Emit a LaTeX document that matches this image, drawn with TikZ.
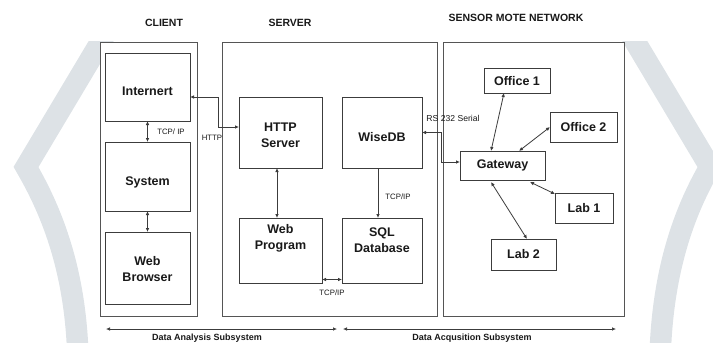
\documentclass[tikz,border=0pt]{standalone}
\usepackage{fontspec}
\setmainfont{Liberation Sans}
\usetikzlibrary{arrows.meta,calc}
\definecolor{chev}{RGB}{221,226,230}
\definecolor{ln}{RGB}{60,60,60}
\definecolor{frame}{RGB}{85,85,85}
\definecolor{txt}{RGB}{25,25,25}
\begin{document}
\begin{tikzpicture}[x=1pt,y=-1pt,
  area/.style={draw=frame,fill=white,line width=0.9pt},
  blk/.style={draw=ln,line width=0.9pt,inner sep=0pt,outer sep=0pt},
  boxtext/.style={font=\bfseries\fontsize{12.5}{16}\selectfont,text=txt,align=center,inner sep=0pt},
  headtext/.style={font=\bfseries\fontsize{10.5}{12}\selectfont,text=txt,inner sep=0pt},
  smalltext/.style={font=\fontsize{7.8}{9}\selectfont,text=txt,inner sep=0pt},
  foottext/.style={font=\bfseries\fontsize{9}{10}\selectfont,text=txt,inner sep=0pt},
  chevron/.style={draw=chev,line width=21.5pt,line join=miter,miter limit=20},
  link/.style={draw=ln,line width=0.8pt,{Latex[length=4pt,width=3.6pt]}-{Latex[length=4pt,width=3.6pt]}},
  onelink/.style={draw=ln,line width=0.8pt,-{Latex[length=4pt,width=3.6pt]}}]
\useasboundingbox (0,0) rectangle (713,343);
\clip (0,0) rectangle (713,343);

% light chevrons at both sides, cut flat at the top
\begin{scope}
  \clip (0,41) rectangle (713,343);
  \draw[chevron] (106,33) -- (26,167) .. controls (48,205) and (76,265) .. (78,360);
  \draw[chevron] (630,33) -- (710,167) .. controls (688,205) and (662,265) .. (660,360);
\end{scope}

% headings
\node[headtext] (hclient) at (164,23) {CLIENT};
\node[headtext] (hserver) at (290,23) {SERVER};
\node[headtext] (hsensor) at (516,18) {SENSOR MOTE NETWORK};

% subsystem frames
\draw[area] (100,42) rectangle (197,316);
\draw[area] (222,42) rectangle (437,316);
\draw[area] (443,42) rectangle (624,316);

% client column
\node[blk,minimum width=85,minimum height=68] (int) at (147.5,87) {};
\node[blk,minimum width=85,minimum height=69] (sys) at (147.5,176.5) {};
\node[blk,minimum width=85,minimum height=72] (wb) at (147.5,268) {};
\node[boxtext] (tint) at (147.5,91) {Internert};
\node[boxtext] (tsys) at (147.5,182) {System};
\node[boxtext] (twb) at (147.5,269.5) {Web\\Browser};

% server column
\node[blk,minimum width=83,minimum height=71] (http) at (280.5,132.5) {};
\node[blk,minimum width=80,minimum height=71] (wise) at (382,132.5) {};
\node[blk,minimum width=83,minimum height=65] (webp) at (280.5,250.5) {};
\node[blk,minimum width=80,minimum height=65] (sql) at (382,250.5) {};
\node[boxtext] (thttp) at (280.5,135.5) {HTTP\\Server};
\node[boxtext] (twise) at (382,137) {WiseDB};
\node[boxtext] (twebp) at (280.5,238) {Web\\Program};
\node[boxtext] (tsql) at (382,240) {SQL\\Database};

% sensor network
\node[blk,minimum width=66,minimum height=25] (off1) at (517,80.5) {};
\node[blk,minimum width=67,minimum height=30] (off2) at (583.5,127) {};
\node[blk,minimum width=85,minimum height=29] (gw) at (502.5,165.5) {};
\node[blk,minimum width=58,minimum height=30] (lab1) at (584,208) {};
\node[blk,minimum width=65,minimum height=31] (lab2) at (523.5,254.5) {};
\node[boxtext] (toff1) at (517,81) {Office 1};
\node[boxtext] (toff2) at (583.5,127.5) {Office 2};
\node[boxtext] (tgw) at (502.5,165) {Gateway};
\node[boxtext] (tlab1) at (584,208) {Lab 1};
\node[boxtext] (tlab2) at (523.5,254.5) {Lab 2};

% client links
\draw[link] (int.south) -- (sys.north);
\draw[link] (sys.south) -- (wb.north);
\node[smalltext] (ltcp1) at (171,132) {TCP/ IP};

% HTTP link between client and server
\draw[link] ([yshift=-44pt]int.north east) -- ++(28,0) |- ([yshift=5.5pt]http.west);
\node[smalltext] (lhttp) at (212,138) {HTTP};

% server links
\draw[link] ([xshift=-3.5pt]http.south) -- ([xshift=-3.5pt]webp.north);
\draw[link] ([yshift=-29pt]webp.east) -- ([yshift=-29pt]sql.west);
\node[smalltext] (ltcp2) at (332,293) {TCP/IP};
\draw[onelink] ([xshift=-4pt]wise.south) -- ([xshift=-4pt]sql.north);
\node[smalltext] (ltcp3) at (398,197) {TCP/IP};

% serial link to the gateway
\draw[link] (wise.east) -- ++(19,0) |- ([yshift=3.5pt]gw.west);
\node[smalltext,font=\fontsize{8.6}{10}\selectfont] (lrs) at (453,118) {RS 232 Serial};

% gateway to motes
\draw[link] ([xshift=-11.5pt]gw.north) -- ([xshift=-13pt]off1.south);
\draw[link] ([xshift=16.5pt]gw.north) -- (off2.west);
\draw[link] ([xshift=27.5pt,yshift=-2pt]gw.south) -- ([yshift=-1pt]lab1.north west);
\draw[link] ([xshift=-11.5pt,yshift=-2pt]gw.south) -- ([xshift=3.5pt]lab2.north);

% subsystem spans
\coordinate (a1) at (106,329);
\coordinate (a2) at (337,329);
\coordinate (b1) at (343,329);
\coordinate (b2) at (616,329);
\draw[link,line width=0.7pt] (a1) -- (a2);
\draw[link,line width=0.7pt] (b1) -- (b2);
\node[foottext] (fa) at (207,338.5) {Data Analysis Subsystem};
\node[foottext] (fb) at (472,338.5) {Data Acqusition Subsystem};
\end{tikzpicture}
\end{document}
